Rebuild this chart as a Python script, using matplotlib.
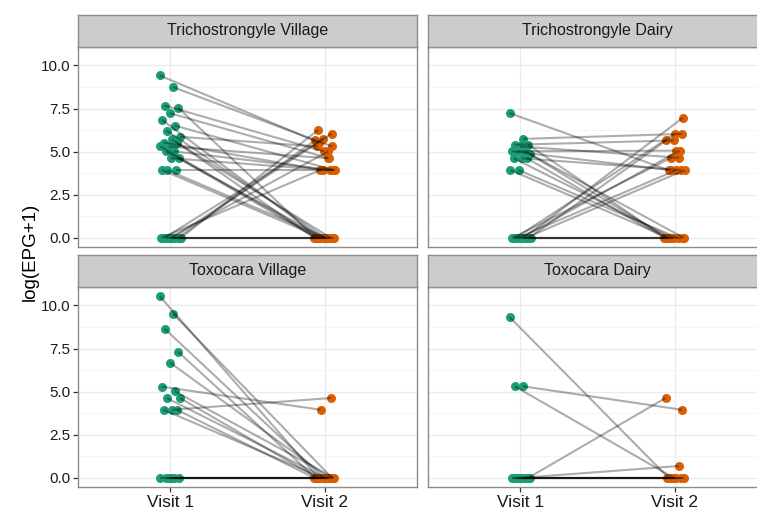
import numpy as np
import matplotlib.pyplot as plt
from matplotlib.ticker import FixedLocator

plt.rcParams['font.family'] = ['Liberation Sans', 'DejaVu Sans']

# panel titles and x categories
panel_titles = ["Trichostrongyle Village", "Trichostrongyle Dairy",
                "Toxocara Village", "Toxocara Dairy"]
visit_labels = ["Visit 1", "Visit 2"]

# log(EPG+1) per animal, visit 1 and visit 2 (paired by position)
tri_village_v1 = [9.42, 8.74, 7.67, 7.55, 7.23, 6.86, 6.51, 6.22, 5.86, 5.71,
                  5.53, 5.53, 5.30, 5.30, 5.02, 5.02, 4.62, 4.62, 3.93, 3.93,
                  3.93, 0, 0, 0, 0, 0, 0, 0, 0, 0, 0]
tri_village_v2 = [5.53, 5.30, 5.02, 0, 4.62, 0, 3.93, 0, 5.30, 0,
                  3.93, 0, 4.62, 0, 3.93, 0, 0, 3.93, 0, 3.93,
                  0, 6.26, 6.04, 5.75, 5.65, 5.02, 3.93, 0, 0, 0, 0]

tri_dairy_v1 = [7.23, 5.74, 5.40, 5.40, 5.30, 5.02, 5.02, 5.02, 4.85, 4.62,
                4.62, 4.62, 3.93, 3.93, 0, 0, 0, 0, 0, 0, 0, 0, 0, 0, 0]
tri_dairy_v2 = [3.93, 6.03, 5.65, 0, 4.65, 3.93, 0, 5.06, 0, 3.93,
                0, 0, 0, 0, 6.96, 6.03, 5.65, 5.06, 4.65, 3.93, 3.93, 0, 0, 0, 0]

tox_village_v1 = [10.54, 9.52, 8.64, 7.31, 6.69, 5.29, 5.02, 4.63, 4.63, 3.95,
                  3.95, 3.95, 0, 0, 0, 0, 0, 0]
tox_village_v2 = [0, 0, 0, 0, 0, 3.95, 0, 0, 0, 4.63,
                  0, 0, 0, 0, 0, 0, 0, 0]

tox_dairy_v1 = [9.32, 5.31, 5.31, 0, 0, 0, 0, 0, 0, 0, 0]
tox_dairy_v2 = [0, 3.95, 0, 4.63, 0.69, 0, 0, 0, 0, 0, 0]

panel_data = [(tri_village_v1, tri_village_v2), (tri_dairy_v1, tri_dairy_v2),
              (tox_village_v1, tox_village_v2), (tox_dairy_v1, tox_dairy_v2)]

GREEN = '#1B9E77'
ORANGE = '#D95F02'
W, H = 757, 509


def box(x0, y0, x1, y1):
    # pixel box -> figure fraction
    return [x0 / W, 1 - y1 / H, (x1 - x0) / W, (y1 - y0) / H]


def jitter(n, phase, width=0.07):
    # deterministic spread instead of random jitter
    return (((np.arange(n) + phase) * 0.618034) % 1 - 0.5) * 2 * width


fig = plt.figure(figsize=(W / 100, H / 100), dpi=100)

cols = [(78, 417), (428, 767)]
rows = [((15, 47), (47, 247)), ((255, 287), (287, 487))]

all_vals = np.concatenate([np.r_[a, b] for a, b in panel_data])
ymin, ymax = all_vals.min(), all_vals.max()
pad = 0.05 * (ymax - ymin)

for k, (title, (v1, v2)) in enumerate(zip(panel_titles, panel_data)):
    r, c = divmod(k, 2)
    (sy0, sy1), (py0, py1) = rows[r]
    x0, x1 = cols[c]

    ax = fig.add_axes(box(x0, py0, x1, py1))
    v1 = np.array(v1, dtype=float)
    v2 = np.array(v2, dtype=float)
    n = len(v1)
    xa = 1 + jitter(n, 0.0)
    xb = 2 + jitter(n, 0.37)

    ax.scatter(xa, v1, s=42, color=GREEN, zorder=3, linewidths=0)
    ax.scatter(xb, v2, s=42, color=ORANGE, zorder=3, linewidths=0)
    for i in range(n):
        ax.plot([xa[i], xb[i]], [v1[i], v2[i]], color='black', alpha=0.32,
                lw=1.5, zorder=4, solid_capstyle='butt')

    ax.set_xlim(0.4, 2.6)
    ax.set_ylim(ymin - pad, ymax + pad)
    ax.set_xticks([1, 2])
    ax.set_yticks([0, 2.5, 5, 7.5, 10])
    ax.yaxis.set_minor_locator(FixedLocator([1.25, 3.75, 6.25, 8.75]))
    ax.grid(True, which='major', color='#EBEBEB', lw=1.0, zorder=0)
    ax.grid(True, which='minor', axis='y', color='#F4F4F4', lw=0.6, zorder=0)
    ax.set_axisbelow(True)
    for sp in ax.spines.values():
        sp.set_color('#8C8C8C')
        sp.set_linewidth(1.0)
    ax.tick_params(which='minor', length=0)
    ax.tick_params(which='major', length=3.5, width=0.9, color='#333333',
                   labelsize=11, labelcolor='#1A1A1A', pad=2)

    if c == 0:
        ax.set_yticklabels(['0.0', '2.5', '5.0', '7.5', '10.0'])
    else:
        ax.tick_params(axis='y', length=0, labelleft=False)
    if r == 1:
        ax.set_xticklabels(visit_labels, fontsize=12.5)
    else:
        ax.tick_params(axis='x', length=0, labelbottom=False)

    # facet strip
    sax = fig.add_axes(box(x0, sy0, x1, sy1))
    sax.set_facecolor('#CCCCCC')
    sax.set_xticks([])
    sax.set_yticks([])
    for sp in sax.spines.values():
        sp.set_color('#8C8C8C')
        sp.set_linewidth(1.0)
    sax.text(0.5, 0.5, title, ha='center', va='center', fontsize=11.5,
             color='#1A1A1A', transform=sax.transAxes)

fig.text(30 / W, 1 - 252 / H, 'log(EPG+1)', rotation=90, ha='center',
         va='center', fontsize=13.5)

fig.savefig('out.png', dpi=100)
